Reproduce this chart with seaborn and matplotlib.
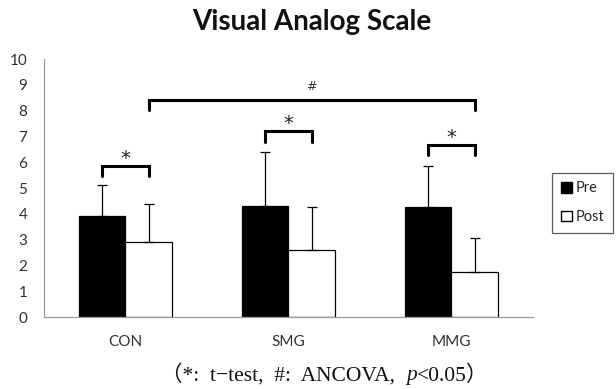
import matplotlib
matplotlib.use("Agg")
import matplotlib.pyplot as plt
import seaborn as sns
import pandas as pd
import numpy as np
from matplotlib.patches import Patch

groups = ["CON", "SMG", "MMG"]
times = ["Pre", "Post"]
pre_mean = [3.9, 4.32, 4.25]
post_mean = [2.9, 2.58, 1.73]
pre_sd = [1.22, 2.09, 1.6]
post_sd = [1.5, 1.69, 1.32]
# significance annotation levels
star_levels = [5.85, 7.2, 6.67]
hash_level = 8.42
yticks = list(range(0, 11))

df = pd.DataFrame({
    "group": groups * 2,
    "time": ["Pre"] * 3 + ["Post"] * 3,
    "value": pre_mean + post_mean,
})

sns.set_style("white")
plt.rcParams["font.family"] = ["Lato", "DejaVu Sans"]

fig = plt.figure(figsize=(6.16, 3.89), dpi=100)
ax = fig.add_axes([0.0714, 0.185, 0.7936, 0.663])

sns.barplot(data=df, x="group", y="value", hue="time", order=groups,
            hue_order=times, palette={"Pre": "black", "Post": "white"},
            edgecolor="black", linewidth=0.9, width=0.57, errorbar=None,
            legend=False, ax=ax)

# bar centres from seaborn patches
bars = [p for p in ax.patches if p.get_height() > 0]
bars.sort(key=lambda p: p.get_x())
centers = [p.get_x() + p.get_width() / 2 for p in bars]
means = []
sds = []
for i in range(3):
    means += [pre_mean[i], post_mean[i]]
    sds += [pre_sd[i], post_sd[i]]
ax.errorbar(centers, means, yerr=[np.zeros(len(sds)), sds], fmt="none",
            ecolor="black", elinewidth=0.9, capsize=3.5, capthick=0.9)

leg_len = 0.4
for i in range(3):
    x0, x1 = centers[2 * i], centers[2 * i + 1]
    lv = star_levels[i]
    ax.plot([x0, x0, x1, x1], [lv - leg_len, lv, lv, lv - leg_len],
            color="black", lw=2.2, solid_joinstyle="miter", clip_on=False)
    ax.text((x0 + x1) / 2, lv + 0.08, "*", ha="center", va="baseline",
            fontsize=14, family="DejaVu Sans", color="#222222")

hx0, hx1 = centers[1], centers[5]
ax.plot([hx0, hx0, hx1, hx1], [hash_level - leg_len, hash_level, hash_level, hash_level - leg_len],
        color="black", lw=2.2, solid_joinstyle="miter", clip_on=False)
ax.text((hx0 + hx1) / 2, hash_level + 0.25, "#", ha="center", va="bottom",
        fontsize=9, family="DejaVu Sans", color="#333333")

ax.set_ylim(0, 10)
ax.set_xlim(-0.5, 2.5)
ax.set_yticks(yticks)
ax.set_yticklabels([str(t) for t in yticks])
ax.set_xlabel("")
ax.set_ylabel("")
for s in ["top", "right"]:
    ax.spines[s].set_visible(False)
for s in ["left", "bottom"]:
    ax.spines[s].set_color("#9a9a9a")
    ax.spines[s].set_linewidth(0.9)
ax.tick_params(axis="both", length=0, labelsize=11, colors="#303030")
ax.tick_params(axis="x", pad=13)
ax.tick_params(axis="y", pad=12)

handles = [Patch(facecolor="black", edgecolor="black", label="Pre"),
           Patch(facecolor="white", edgecolor="black", label="Post")]
leg = fig.legend(handles=handles, loc="upper left", bbox_to_anchor=(0.885, 0.575),
                 frameon=True, fancybox=False, fontsize=10.5, handlelength=0.75,
                 handleheight=0.75, handletextpad=0.25, borderpad=0.6,
                 labelspacing=1.0, edgecolor="#333333")
leg.get_frame().set_linewidth(0.9)

fig.text(0.506, 0.943, "Visual Analog Scale", ha="center", va="center",
         fontsize=20, fontweight="bold", color="#111111")

cap_fam = ["Liberation Serif", "Noto Sans CJK KR"]
cap_y = 0.022
cap_fs = 15.5
t1 = fig.text(0.262, cap_y, "（*:  t−test,  #:  ANCOVA,  ", ha="left", va="baseline",
              fontsize=cap_fs, family=cap_fam, color="#111111")
t2 = plt.annotate("p", xy=(1, 0), xycoords=t1, ha="left", va="bottom",
                  fontsize=cap_fs, family="Liberation Serif", style="italic",
                  color="#111111", annotation_clip=False)
t3 = plt.annotate("<0.05）", xy=(1, 0), xycoords=t2, ha="left", va="bottom",
                  fontsize=cap_fs, family=cap_fam, color="#111111",
                  annotation_clip=False)

fig.savefig("out.png", dpi=100)
